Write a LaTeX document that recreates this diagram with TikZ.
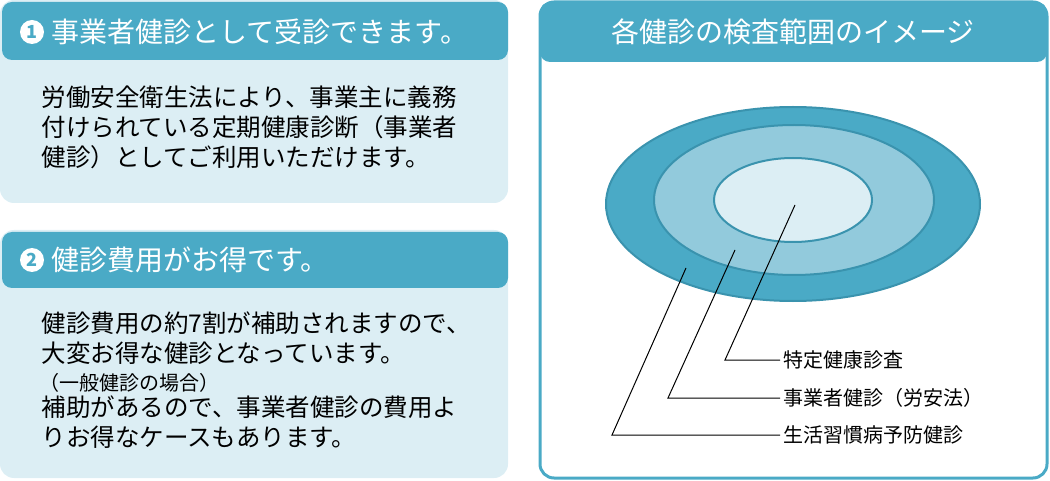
\documentclass[tikz,border=0pt]{standalone}
\usepackage{fontspec}
\setmainfont{Noto Sans CJK JP}
\definecolor{teal}{HTML}{4AAAC6}
\definecolor{paleblue}{HTML}{DCEEF4}
\definecolor{midblue}{HTML}{92CADC}
\definecolor{rimblue}{HTML}{3A93AE}
\begin{document}
\begin{tikzpicture}[x=1pt,y=-1pt]
  \tikzset{panel/.style={fill=paleblue, rounded corners=14pt},
    header/.style={fill=teal, rounded corners=10pt},
    headtext/.style={text=white, anchor=west, font=\fontsize{28}{28}\selectfont},
    numdot/.style={circle, fill=white, text=teal, inner sep=0pt, minimum size=24pt, font=\fontsize{18}{18}\selectfont\bfseries},
    body/.style={anchor=north west, align=left, font=\fontsize{24.5}{30}\selectfont},
    lab/.style={anchor=west, font=\fontsize{20}{20}\selectfont},
    leader/.style={draw=black, line width=1pt}}
  \useasboundingbox (0,0) rectangle (1050,481);
  % left panels
  \fill[panel] (0,0) rectangle (508,203);
  \fill[header] (2,2) rectangle (508,60);
  \node[numdot] (n1) at (32,32) {1};
  \node[headtext, right=4pt] (h1) at (n1.east) {事業者健診として受診できます。};
  \node[body] (t1) at (38,82) {労働安全衛生法により、事業主に義務\\付けられている定期健康診断（事業者\\健診）としてご利用いただけます。};
  \fill[panel] (0,230) rectangle (508,478);
  \fill[header] (2,232) rectangle (508,288);
  \node[numdot] (n2) at (32,260) {2};
  \node[headtext, right=4pt] (h2) at (n2.east) {健診費用がお得です。};
  \node[body] (t2) at (38,308) {健診費用の約7割が補助されますので、\\大変お得な健診となっています。};
  \node[anchor=north west, font=\fontsize{20}{20}\selectfont] (t3) at (36,370) {（一般健診の場合）};
  \node[body] (t4) at (38,392) {補助があるので、事業者健診の費用よ\\りお得なケースもあります。};
  % right panel
  \draw[draw=teal, line width=3pt, fill=white, rounded corners=14pt] (540,2) rectangle (1047,478);
  \fill[header] (540,2) rectangle (1047,62);
  \node[text=white, font=\fontsize{28}{28}\selectfont] (h3) at (793,32) {各健診の検査範囲のイメージ};
  % ellipses
  \draw[fill=teal, draw=rimblue, line width=2pt] (793,204) ellipse [x radius=187, y radius=97];
  \draw[fill=midblue, draw=rimblue, line width=2pt] (794,200) ellipse [x radius=140, y radius=75];
  \draw[fill=paleblue, draw=rimblue, line width=2pt] (793,200) ellipse [x radius=79, y radius=42];
  % leaders
  \coordinate (p1) at (795,205);
  \coordinate (p2) at (735,250);
  \coordinate (p3) at (686,268);
  \node[lab] (l1) at (780,360) {特定健康診査};
  \node[lab] (l2) at (780,398) {事業者健診（労安法）};
  \node[lab] (l3) at (780,435) {生活習慣病予防健診};
  \draw[leader] (p1) -- (725,360) -- (l1.west);
  \draw[leader] (p2) -- (668,398) -- (l2.west);
  \draw[leader] (p3) -- (612,435) -- (l3.west);
\end{tikzpicture}
\end{document}
